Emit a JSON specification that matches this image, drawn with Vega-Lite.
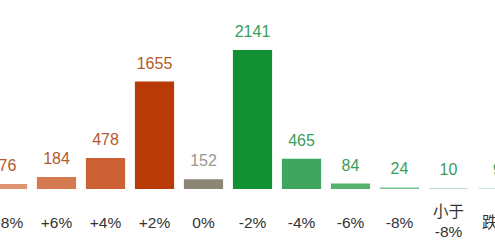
{
  "$schema": "https://vega.github.io/schema/vega-lite/v6.json",
  "width": 495,
  "height": 189,
  "autosize": "none",
  "padding": {"left": 0, "top": 0, "right": 0, "bottom": 57},
  "background": "white",
  "config": {"view": {"stroke": null}, "font": "Liberation Sans, Noto Sans CJK SC"},
  "data": {"values": [
    {"range": "+8%", "count": 76, "dir": "up"},
    {"range": "+6%", "count": 184, "dir": "up"},
    {"range": "+4%", "count": 478, "dir": "up"},
    {"range": "+2%", "count": 1655, "dir": "up"},
    {"range": "0%", "count": 152, "dir": "flat"},
    {"range": "-2%", "count": 2141, "dir": "down"},
    {"range": "-4%", "count": 465, "dir": "down"},
    {"range": "-6%", "count": 84, "dir": "down"},
    {"range": "-8%", "count": 24, "dir": "down"},
    {"range": "小于\n-8%", "count": 10, "dir": "down"},
    {"range": "跌停", "count": 9, "dir": "down"}
  ]},
  "encoding": {
    "x": {
      "field": "range", "type": "nominal", "sort": null,
      "scale": {"range": [-17, 522], "paddingInner": 0.2, "paddingOuter": 0.1},
      "axis": {"title": null, "labelAngle": 0, "ticks": false, "domain": false, "labelPadding": 33,
               "labelBaseline": {"condition": {"test": "indexof(datum.value, '\\n') >= 0", "value": "line-bottom"}, "value": "middle"},
               "labelFontSize": 15.5, "labelColor": "#333333",
               "labelFont": "Liberation Sans, Noto Sans CJK SC", "labelLineHeight": 20,
               "labelExpr": "split(datum.label, '\\n')", "labelOverlap": false, "labelBound": false, "labelFlush": false}
    },
    "y": {"field": "count", "type": "quantitative", "scale": {"domain": [0, 2911]}, "axis": null}
  },
  "layer": [
    {
      "mark": {"type": "bar"},
      "encoding": {
        "color": {"field": "range", "type": "nominal", "sort": null, "legend": null,
          "scale": {"domain": ["+8%", "+6%", "+4%", "+2%", "0%", "-2%", "-4%", "-6%", "-8%", "小于\n-8%", "跌停"],
                    "range": ["#DE9470", "#D57A50", "#CC6136", "#B83A06", "#8C8677", "#129134", "#3EA65E", "#58B26F", "#7DC291", "#A5D5B0", "#A5D5B0"]}}
      }
    },
    {
      "mark": {"type": "text", "dy": -13, "baseline": "alphabetic", "fontSize": 16, "font": "Liberation Sans"},
      "encoding": {
        "text": {"field": "count", "type": "quantitative"},
        "color": {"field": "dir", "type": "nominal", "legend": null,
          "scale": {"domain": ["up", "flat", "down"], "range": ["#B4582E", "#9A978F", "#3A9D5A"]}}
      }
    }
  ],
  "resolve": {"scale": {"color": "independent"}}
}
